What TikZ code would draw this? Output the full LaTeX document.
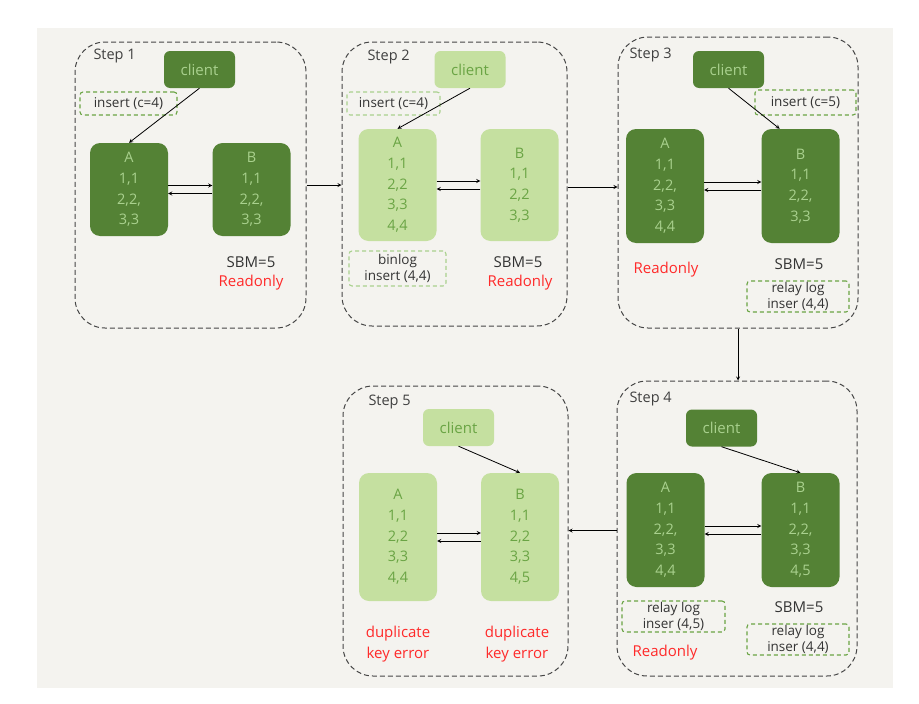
\documentclass[tikz,border=0pt]{standalone}
\usepackage{fontspec}
\setmainfont{Open Sans}
\usepackage{tikz}
\definecolor{panelbg}{HTML}{F4F3EF}
\definecolor{darkgreen}{HTML}{548235}
\definecolor{lightgreen}{HTML}{C5E0A0}
\definecolor{palegreen}{HTML}{A9D18E}
\definecolor{midgreen}{HTML}{6AA444}
\definecolor{framegray}{HTML}{454545}
\definecolor{errred}{HTML}{FF2A2A}

\begin{document}
\begin{tikzpicture}[x=1pt,y=-1pt,
    stepframe/.style={draw=framegray,line width=1pt,dash pattern=on 5pt off 3pt,rounded corners=30pt,inner sep=0pt},
    dbbox/.style={fill=darkgreen,text=palegreen,rounded corners=10pt,inner sep=0pt,minimum width=78pt,align=center,font=\fontsize{14.5}{20.7}\selectfont},
    lightdb/.style={dbbox,fill=lightgreen,text=midgreen},
    clientbox/.style={fill=darkgreen,text=palegreen,rounded corners=6pt,inner sep=0pt,minimum width=71pt,minimum height=37pt,font=\fontsize{15}{16}\selectfont},
    lightclient/.style={clientbox,fill=lightgreen,text=midgreen},
    notebox/.style={draw=midgreen,line width=1.1pt,dash pattern=on 4pt off 3pt,rounded corners=3pt,inner sep=0pt,align=center,text=black!80,font=\fontsize{13.5}{16}\selectfont},
    lightnote/.style={notebox,draw=palegreen},
    steplabel/.style={anchor=west,text=black!75,font=\fontsize{14.5}{16}\selectfont},
    plainlabel/.style={text=black!80,align=center,font=\fontsize{15}{16}\selectfont},
    redlabel/.style={text=errred,align=center,font=\fontsize{15}{21}\selectfont},
    link/.style={line width=0.8pt,-stealth}]
  \useasboundingbox (0,0) rectangle (919,704);
  \fill[panelbg] (37,28) rectangle (893,688);

  % dashed frames of the five steps
  \node[stepframe,minimum width=231pt,minimum height=286pt] (s1) at (190.5,185) {};
  \node[stepframe,minimum width=225pt,minimum height=284pt] (s2) at (454.5,184) {};
  \node[stepframe,minimum width=240pt,minimum height=291pt] (s3) at (738,182.5) {};
  \node[stepframe,minimum width=240pt,minimum height=295pt] (s4) at (737,528.5) {};
  \node[stepframe,minimum width=225pt,minimum height=290pt] (s5) at (455.5,531) {};
  \node[steplabel] (t1) at (90,56) {Step 1};
  \node[steplabel] (t2) at (364,57) {Step 2};
  \node[steplabel] (t3) at (626,55) {Step 3};
  \node[steplabel] (t4) at (626,399) {Step 4};
  \node[steplabel] (t5) at (365,402) {Step 5};

  % step 1
  \node[clientbox] (c1) at (199.5,69.5) {client};
  \node[notebox,minimum width=97pt,minimum height=23pt] (n1) at (128.5,103.5) {insert (c=4)};
  \node[dbbox,minimum height=93pt] (A1) at (129,189.5) {A\\1,1\\2,2,\\3,3};
  \node[dbbox,minimum height=93pt] (B1) at (251.5,189.5) {B\\1,1\\2,2,\\3,3};
  \node[plainlabel] (m1) at (251,262) {SBM=5};
  \node[redlabel] (r1) at (251,283) {Readonly};
  \draw[link] (c1.south) -- (A1.north);
  \draw[link] ([yshift=4pt]A1.east) -- ([yshift=4pt]A1.east -| B1.west);
  \draw[link] ([yshift=-4pt]B1.west) -- ([yshift=-4pt]B1.west -| A1.east);

  % step 2
  \node[lightclient] (c2) at (470,69.5) {client};
  \node[lightnote,minimum width=93pt,minimum height=23pt] (n2) at (393.5,103.5) {insert (c=4)};
  \node[lightdb,minimum height=112pt] (A2) at (397.5,185) {A\\1,1\\2,2\\3,3\\4,4};
  \node[lightdb,minimum height=112pt] (B2) at (519.5,185) {B\\1,1\\2,2\\3,3};
  \node[lightnote,minimum width=97pt,minimum height=35pt] (g2) at (397.5,268.5) {binlog\\insert (4,4)};
  \node[plainlabel] (m2) at (518,262) {SBM=5};
  \node[redlabel] (r2) at (520,283) {Readonly};
  \draw[link] (c2.south) -- (A2.north);
  \draw[link] ([yshift=4pt]A2.east) -- ([yshift=4pt]A2.east -| B2.west);
  \draw[link] ([yshift=-4pt]B2.west) -- ([yshift=-4pt]B2.west -| A2.east);

  % step 3
  \node[clientbox] (c3) at (728.5,69.5) {client};
  \node[notebox,minimum width=101pt,minimum height=25pt] (n3) at (805.5,102.5) {insert (c=5)};
  \node[dbbox,minimum height=114pt] (A3) at (665,186) {A\\1,1\\2,2,\\3,3\\4,4};
  \node[dbbox,minimum height=114pt] (B3) at (800.5,186) {B\\1,1\\2,2,\\3,3};
  \node[redlabel] (r3) at (666,270) {Readonly};
  \node[plainlabel] (m3) at (799,264) {SBM=5};
  \node[notebox,minimum width=102pt,minimum height=31pt] (g3) at (798,296.5) {relay log\\inser (4,4)};
  \draw[link] (c3.south) -- (B3.110);
  \draw[link] ([yshift=4pt]A3.east) -- ([yshift=4pt]A3.east -| B3.west);
  \draw[link] ([yshift=-4pt]B3.west) -- ([yshift=-4pt]B3.west -| A3.east);

  % step 4
  \node[clientbox] (c4) at (721.5,428) {client};
  \node[dbbox,minimum height=114pt] (A4) at (665.5,530) {A\\1,1\\2,2,\\3,3\\4,4};
  \node[dbbox,minimum height=114pt] (B4) at (800.5,530) {B\\1,1\\2,2,\\3,3\\4,5};
  \node[notebox,minimum width=103pt,minimum height=31pt] (g4) at (673.5,616.5) {relay log\\inser (4,5)};
  \node[plainlabel] (m4) at (799,607) {SBM=5};
  \node[notebox,minimum width=102pt,minimum height=31pt] (h4) at (798,639.5) {relay log\\inser (4,4)};
  \node[redlabel] (r4) at (665,653) {Readonly};
  \draw[link] (c4.south) -- (B4.north);
  \draw[link] ([yshift=4pt]A4.east) -- ([yshift=4pt]A4.east -| B4.west);
  \draw[link] ([yshift=-4pt]B4.west) -- ([yshift=-4pt]B4.west -| A4.east);

  % step 5
  \node[lightclient] (c5) at (458.5,427.5) {client};
  \node[lightdb,minimum height=128pt] (A5) at (398,537) {A\\1,1\\2,2\\3,3\\4,4};
  \node[lightdb,minimum height=128pt] (B5) at (520,537) {B\\1,1\\2,2\\3,3\\4,5};
  \node[redlabel] (e5) at (398,644.5) {duplicate\\key error};
  \node[redlabel] (f5) at (517,644.5) {duplicate\\key error};
  \draw[link] (c5.south) -- (B5.north);
  \draw[link] ([yshift=4pt]A5.east) -- ([yshift=4pt]A5.east -| B5.west);
  \draw[link] ([yshift=-4pt]B5.west) -- ([yshift=-4pt]B5.west -| A5.east);

  % from one step to the next
  \draw[link] (s1.east) -- (s1.east -| s2.west);
  \draw[link] ([yshift=-3pt]s2.east) -- ([yshift=-3pt]s2.east -| s3.west);
  \draw[link] (s3.south) -- (s3.south |- s4.north);
  \draw[link] ([yshift=-2pt]s4.west) -- ([yshift=-2pt]s4.west -| s5.east);
\end{tikzpicture}
\end{document}
